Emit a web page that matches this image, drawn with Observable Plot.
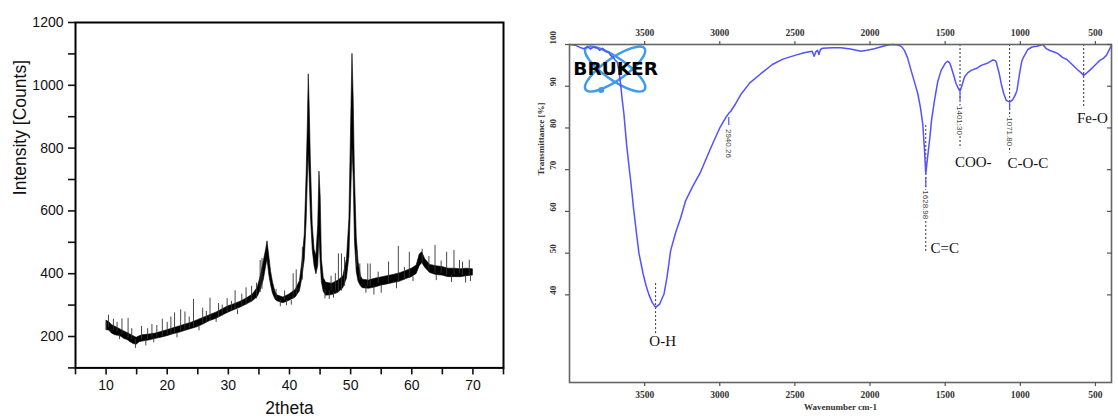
<!DOCTYPE html>
<html><head><meta charset="utf-8">
<script src="https://cdn.jsdelivr.net/npm/d3@7"></script>
<script src="https://cdn.jsdelivr.net/npm/@observablehq/plot@0.6"></script>
<style>
html,body{margin:0;padding:0;background:#fff;}
#wrap{position:relative;width:1118px;height:419px;overflow:hidden;background:#fff;}
#xrd{position:absolute;left:0;top:0;}
#ftir{position:absolute;left:530px;top:0;}
</style></head>
<body><div id="wrap"><div id="xrd"></div><div id="ftir"></div></div>
<script>
// ---------------- XRD data ----------------
const xrdTheta = [10.1,10.5,11,11.5,12,12.5,13,13.5,14,14.5,15,15.5,16,17,18,19,20,21,22,23,24,25,26,27,28,29,30,31,32,33,34,34.8,35.3,35.8,36.2,36.4,36.7,37,37.3,37.7,38,39,40,41,41.7,42.1,42.5,42.8,43.0,43.15,43.3,43.5,43.8,44.1,44.4,44.7,44.9,45.1,45.3,45.6,46,47,48,48.8,49.4,49.8,50.1,50.3,50.5,50.7,51,51.3,51.7,52,53,54,55,56,57,58,59,60,60.8,61.3,61.7,62.2,63,64,65,66,67,68,69,70];
const xrdLow   = [220,219,209,204,202,199,192,189,182,176,174,182,184,187,192,196,201,207,212,218,224,230,239,249,256,266,276,284,292,302,312,326,348,380,425,445,395,362,336,318,312,306,314,324,344,385,445,565,705,785,705,585,475,424,398,425,525,435,372,342,330,332,339,354,385,455,655,805,705,505,405,374,359,354,352,356,362,366,370,374,382,389,399,424,434,419,402,396,394,389,389,389,392,394];
const xrdHigh  = [250,246,236,231,226,221,216,211,206,201,196,201,204,206,209,214,220,226,232,238,244,252,260,268,276,286,296,303,311,321,334,355,392,440,478,503,455,405,372,342,331,324,334,348,376,436,525,715,875,1035,935,755,555,476,456,555,725,645,445,386,371,368,378,391,446,575,895,1100,955,715,515,436,391,381,378,384,388,392,396,401,408,416,426,461,468,446,428,424,421,416,416,414,416,414];
const spikeTheta = [10.4,11.2,12.6,13.6,15.8,17.5,19.2,20.6,21.2,22.2,22.9,24.3,25.8,27,28.4,29.8,31.1,32.9,33.8,34.6,35.2,35.5,40.6,41.1,42.1,48,48.5,49,51,51.5,52.8,53.2,56.2,57.8,59.6,63.8,65.7,66.9,68.3,69.4,11.8,14.2,16.8,18.3,20,23.6,26.4,29,30.5,32.2,37.8,39.2,46.8,47.5,54.5,58.8,61.7,62.8,64.8,67.8,14.8,16.5,38.5,39.5,45.8,46.5,53.8,55,66.5,68.8,12.2,17.8,21.6,25.2,28,31.5,40.3,47.2,52.5,57.5,60.2,64,69.6];
const spikeFrom  = [230,220,205,195,190,195,200,205,210,215,220,230,240,250,260,275,285,300,310,320,340,350,320,330,380,340,345,360,420,380,360,360,370,375,385,400,395,395,395,395,215,190,190,195,205,225,245,265,280,295,320,315,345,345,370,380,430,410,400,400,190,190,315,315,350,345,360,365,395,395,205,195,210,235,258,285,315,340,360,372,390,398,392];
const spikeTo    = [268,255,256,258,232,238,255,262,275,285,278,318,290,322,305,320,346,355,360,370,442,448,400,412,484,463,463,452,474,431,431,431,437,487,468,490,468,474,437,443,245,225,225,235,245,262,280,300,312,335,350,345,392,400,405,420,478,455,440,442,162,170,295,298,320,318,332,338,372,370,190,180,196,218,245,270,300,322,338,352,375,378,375];
const xrdXTicks = [5,10,15,20,25,30,35,40,45,50,55,60,65,70,75];
const xrdXLabels = [10,20,30,40,50,60,70];
const xrdYTicks = [100,200,300,400,500,600,700,800,900,1000,1100,1200];
const xrdYLabels = [200,400,600,800,1000,1200];
const xrdYTitle = "Intensity [Counts]";
const xrdXTitle = "2theta";

// ---------------- FTIR data ----------------
const ftirWn = [4000,3960,3930,3904,3880,3860,3840,3816,3800,3780,3760,3738,3727,3710,3695,3682,3670,3660,3650,3638,3620,3600,3593,3573,3555,3538,3510,3490,3471,3450,3427,3400,3371,3350,3327,3293,3260,3227,3180,3127,3080,3038,3000,2960,2940,2927,2900,2860,2800,2727,2650,2580,2500,2440,2385,2372,2360,2350,2340,2330,2316,2250,2193,2130,2060,2020,1971,1920,1882,1850,1816,1790,1771,1750,1727,1700,1682,1665,1649,1638,1629,1620,1604,1590,1571,1550,1527,1500,1482,1470,1460,1440,1427,1410,1401,1390,1371,1350,1327,1290,1260,1220,1182,1170,1160,1140,1127,1110,1093,1071,1050,1035,1022,1005,990,978,950,922,890,862,850,827,800,775,749,720,690,660,620,595,578,560,538,510,490,471,450,427,410,393];
const ftirT  = [100,99.8,99.3,99.0,99.5,98.9,99.4,99.2,98.6,99.1,98.3,98.2,97.4,97.0,96.2,95.8,93.5,90.6,87.0,83.4,76,69.5,67.4,60.5,55,50,45,42.2,40,38.2,37.0,37.8,40.2,44.5,50.6,55,58.5,62.6,66,69.5,73.5,77,80,82.5,83.5,84,85.5,88,90.8,93,95.2,96.5,97.4,98,98.4,97.2,98.3,98.6,97.6,98.8,99.1,99.2,99.2,98.9,98.4,98.6,99.0,99.5,99.9,100,99.9,99.5,98.6,96.8,93.8,90.5,88.2,85,81,75,69.0,72,77,82,86.6,91,93.8,95.5,96.0,95.6,94.6,92.2,90.6,89.3,88.8,90,92.2,93.2,93.8,94.3,95.0,95.5,96.3,96.2,95.8,93,90.6,88.2,86.6,86.2,86.8,87.8,89.0,93,96,97.0,98.8,99.4,99.6,99.9,100,99.0,98.5,98.2,97.8,96.9,96.4,95.4,94,93.2,92.6,93.1,93.8,94.8,95.5,96.2,96.6,97.4,98.6,99.8];
// peak picks (number labels)
const peakWn     = [2940,1629,1401,1071];
const peakLabel  = ["2940.26","1628.98","1401.30","1071.80"];
const peakTickT1 = [82.5,68.1,88.2,85.9];
const peakTickT2 = [80.6,65.7,86.6,84.2];
const peakLabelT = [76.3,61.6,81.8,79.1];
// band assignments
const groupName   = ["O-H","C=C","COO-","C-O-C","Fe-O"];
const groupWn     = [3427,1629,1401,1071,578];
const groupT1     = [42.7,80.6,100,100,100];
const groupT2     = [30.7,49.9,75,74,84.7];
const groupLabelWn= [3380,1503,1313,950,520];
const groupLabelT = [29.0,51.1,71.7,71.5,82.3];
const wnTicks = [3500,3000,2500,2000,1500,1000,500];
const tTicks = [40,50,60,70,80,90,100];
const ftirXTitle = "Wavenumber cm-1";
const ftirYTitle = "Transmittance [%]";
const ftirYTitleT = 68.6;
const logoText = "BRUKER";
const logoWn = 3693, logoT = 94, logoDotWn = 3789, logoDotT = 89.1;

// ---------------- XRD chart ----------------
const band = xrdTheta.map((t,i)=>({t, lo:xrdLow[i], hi:xrdHigh[i]}));
const spikes = spikeTheta.map((t,i)=>({t, a:spikeFrom[i], b:spikeTo[i]}));
const sans = "Liberation Sans, Arial, Helvetica, sans-serif";
const xrd = Plot.plot({
  width: 530, height: 419,
  marginLeft: 75, marginRight: 27, marginTop: 22, marginBottom: 51.6,
  style: {fontFamily: sans, background: "white", color: "#111", overflow: "visible"},
  x: {domain: [5, 75]},
  y: {domain: [100, 1200]},
  marks: [
    Plot.areaY(band, {x: "t", y1: "lo", y2: "hi", fill: "#000", stroke: "#000", strokeWidth: 0.6}),
    Plot.ruleX(spikes, {x: "t", y1: "a", y2: "b", stroke: "#333", strokeWidth: 0.9}),
    Plot.frame({stroke: "#000", strokeWidth: 2}),
    Plot.axisX({ticks: xrdXTicks, tickFormat: d => xrdXLabels.includes(d) ? String(d) : "", tickSize: 7, tickPadding: 5, fontSize: 14, label: null, strokeWidth: 1.6, color: "#111"}),
    Plot.axisY({ticks: xrdYTicks, tickFormat: d => xrdYLabels.includes(d) ? String(d) : "", tickSize: 7, tickPadding: 5, fontSize: 14, label: null, strokeWidth: 1.6, color: "#111"}),
    Plot.text([xrdYTitle], {frameAnchor: "left", dx: -55.5, rotate: -90, text: d => d, fontSize: 17.5, fill: "#111"}),
    Plot.text([xrdXTitle], {frameAnchor: "bottom", dy: 45.6, text: d => d, fontSize: 17.5, fill: "#111"})
  ]
});
document.getElementById("xrd").appendChild(xrd);

// ---------------- FTIR chart ----------------
const ftir = ftirWn.map((w,i)=>({w, t: ftirT[i]}));
const peaks = peakWn.map((w,i)=>({w, label: peakLabel[i], t1: peakTickT1[i], t2: peakTickT2[i], lt: peakLabelT[i]}));
const groups = groupName.map((n,i)=>({n, w: groupWn[i], t1: groupT1[i], t2: groupT2[i], lw: groupLabelWn[i], lt: groupLabelT[i]}));
const serif = "Liberation Serif, Times New Roman, serif";
const blue = "#5252ff";
const plain = d => String(d);
const ftirPlot = Plot.plot({
  width: 588, height: 419,
  marginLeft: 39, marginRight: 7, marginTop: 44, marginBottom: 37,
  style: {fontFamily: serif, background: "transparent", color: "#333", overflow: "visible"},
  x: {domain: [4000, 393]},
  y: {domain: [19, 100]},
  marks: [
    Plot.dot([0], {x: () => logoDotWn, y: () => logoDotT, r: 3, fill: "#3d9be9", stroke: "none"}),
    Plot.ruleX(groups, {x: "w", y1: "t1", y2: "t2", stroke: "#333", strokeWidth: 1, strokeDasharray: "2,2"}),
    Plot.line(ftir, {x: "w", y: "t", stroke: blue, strokeWidth: 1.5}),
    Plot.ruleX(peaks, {x: "w", y1: "t1", y2: "t2", stroke: blue, strokeWidth: 1.2}),
    Plot.text(peaks, {x: "w", y: "lt", text: "label", rotate: 90, fontSize: 8, fontFamily: sans, fill: "#444", stroke: "white", strokeWidth: 3}),
    Plot.text(groups, {x: "lw", y: "lt", text: "n", fontSize: 15, fill: "#111"}),
    Plot.text([logoText], {x: () => logoWn, y: () => logoT, text: d => d, fontSize: 18.5, fontWeight: "bold", fontFamily: "DejaVu Sans, Arial, sans-serif", fill: "#000"}),
    Plot.frame({stroke: "#666", strokeWidth: 1.6}),
    Plot.axisX({anchor: "top", ticks: wnTicks, tickFormat: plain, tickSize: 4, tickPadding: 5, fontSize: 9.5, fontWeight: "bold", label: null, stroke: "#555", strokeWidth: 1.2, color: "#333"}),
    Plot.axisX({anchor: "bottom", ticks: wnTicks, tickFormat: plain, tickSize: 4, tickPadding: 5, fontSize: 9.5, fontWeight: "bold", label: null, stroke: "#555", strokeWidth: 1.2, color: "#333"}),
    Plot.axisY({anchor: "left", ticks: tTicks, tickSize: 4, tickFormat: () => "", label: null, stroke: "#555", strokeWidth: 1.2}),
    Plot.axisY({anchor: "right", ticks: tTicks, tickSize: 5, dx: -5, tickFormat: () => "", label: null, stroke: "#555", strokeWidth: 1.2}),
    Plot.text(tTicks, {frameAnchor: "left", y: d => d, text: d => String(d), rotate: -90, dx: -16, fontSize: 9, fontWeight: "bold", fill: "#333"}),
    Plot.text([ftirXTitle], {frameAnchor: "bottom", dy: 27, text: d => d, fontSize: 9, fontWeight: "bold", fill: "#333"}),
    Plot.text([ftirYTitle], {frameAnchor: "left", y: () => ftirYTitleT, text: d => d, rotate: -90, dx: -28, fontSize: 9, fontWeight: "bold", fill: "#333"})
  ]
});
document.getElementById("ftir").appendChild(ftirPlot);

// Bruker logo orbits (decoration), placed through the chart's scales
(function(){
  const sx = ftirPlot.scale("x"), sy = ftirPlot.scale("y");
  const cx = sx.apply(logoWn), cy = sy.apply(logoT);
  const svg = d3.select(ftirPlot);
  const g = svg.insert("g", "g").attr("transform", `translate(${cx},${cy})`);
  [35, -35].forEach(a => {
    g.append("ellipse").attr("rx", 36).attr("ry", 11).attr("transform", `rotate(${a})`)
      .attr("fill", "none").attr("stroke", "#3d9be9").attr("stroke-width", 2.5);
  });
})();
</script>
</body></html>
